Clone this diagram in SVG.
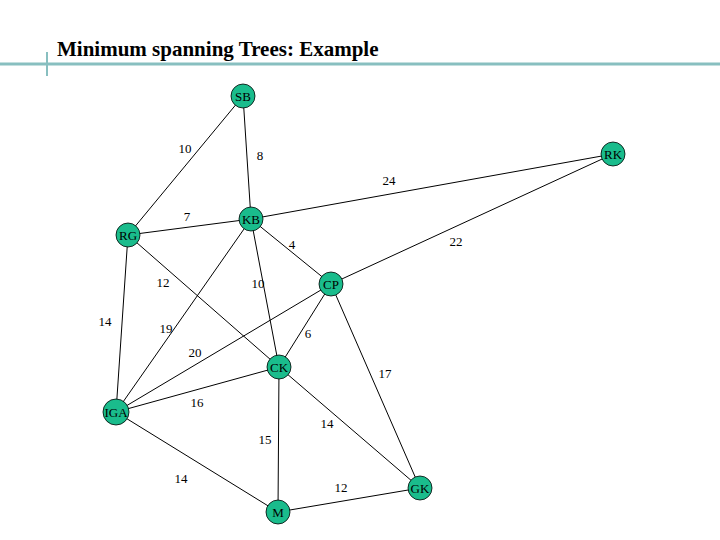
<svg xmlns="http://www.w3.org/2000/svg" width="720" height="540" viewBox="0 0 720 540">
<style>
.n{fill:#1abc8c;stroke:#000;stroke-width:0.8}
.t{font-family:"Liberation Serif",serif;font-size:13px;text-anchor:middle;fill:#000}
.w{font-family:"Liberation Serif",serif;font-size:13px;text-anchor:middle;fill:#000}
#edges line{stroke:#000;stroke-width:1}
</style>
<rect width="720" height="540" fill="#fff"/>
<line x1="0" y1="64" x2="720" y2="64" stroke="#88bfc0" stroke-width="3"/>
<line x1="47" y1="52" x2="47" y2="76" stroke="#88bfc0" stroke-width="2"/>
<text x="57" y="56" font-family="Liberation Serif,serif" font-size="21" font-weight="bold">Minimum spanning Trees: Example</text>
<g id="edges">
<line x1="243" y1="96" x2="128" y2="235"/>
<line x1="243" y1="96" x2="251" y2="219"/>
<line x1="251" y1="219" x2="613" y2="154"/>
<line x1="331" y1="284" x2="613" y2="154"/>
<line x1="128" y1="235" x2="251" y2="219"/>
<line x1="251" y1="219" x2="331" y2="284"/>
<line x1="128" y1="235" x2="279" y2="367"/>
<line x1="251" y1="219" x2="279" y2="367"/>
<line x1="128" y1="235" x2="116" y2="412"/>
<line x1="251" y1="219" x2="116" y2="412"/>
<line x1="331" y1="284" x2="116" y2="412"/>
<line x1="331" y1="284" x2="279" y2="367"/>
<line x1="331" y1="284" x2="420" y2="488"/>
<line x1="279" y1="367" x2="116" y2="412"/>
<line x1="279" y1="367" x2="420" y2="488"/>
<line x1="279" y1="367" x2="278" y2="512"/>
<line x1="116" y1="412" x2="278" y2="512"/>
<line x1="278" y1="512" x2="420" y2="488"/>
<text class="w" x="185" y="153">10</text>
<text class="w" x="260" y="160">8</text>
<text class="w" x="389" y="185">24</text>
<text class="w" x="456" y="246">22</text>
<text class="w" x="187" y="221">7</text>
<text class="w" x="292" y="249">4</text>
<text class="w" x="163" y="287">12</text>
<text class="w" x="258" y="288">10</text>
<text class="w" x="105" y="326">14</text>
<text class="w" x="166" y="333">19</text>
<text class="w" x="308" y="338">6</text>
<text class="w" x="195" y="357">20</text>
<text class="w" x="385" y="378">17</text>
<text class="w" x="197" y="407">16</text>
<text class="w" x="327" y="428">14</text>
<text class="w" x="265" y="444">15</text>
<text class="w" x="181" y="483">14</text>
<text class="w" x="341" y="492">12</text>
</g>
<g id="SB"><circle class="n" cx="243" cy="96" r="12"/><text class="t" x="243" y="101">SB</text></g>
<g id="RK"><circle class="n" cx="613" cy="154" r="12"/><text class="t" x="613" y="159">RK</text></g>
<g id="KB"><circle class="n" cx="251" cy="219" r="12"/><text class="t" x="251" y="224">KB</text></g>
<g id="RG"><circle class="n" cx="128" cy="235" r="12"/><text class="t" x="128" y="240">RG</text></g>
<g id="CP"><circle class="n" cx="331" cy="284" r="12"/><text class="t" x="331" y="289">CP</text></g>
<g id="CK"><circle class="n" cx="279" cy="367" r="12"/><text class="t" x="279" y="372">CK</text></g>
<g id="IGA"><circle class="n" cx="116" cy="412" r="13"/><text class="t" x="116" y="417">IGA</text></g>
<g id="GK"><circle class="n" cx="420" cy="488" r="12"/><text class="t" x="420" y="493">GK</text></g>
<g id="M"><circle class="n" cx="278" cy="512" r="12"/><text class="t" x="278" y="517">M</text></g>
</svg>
